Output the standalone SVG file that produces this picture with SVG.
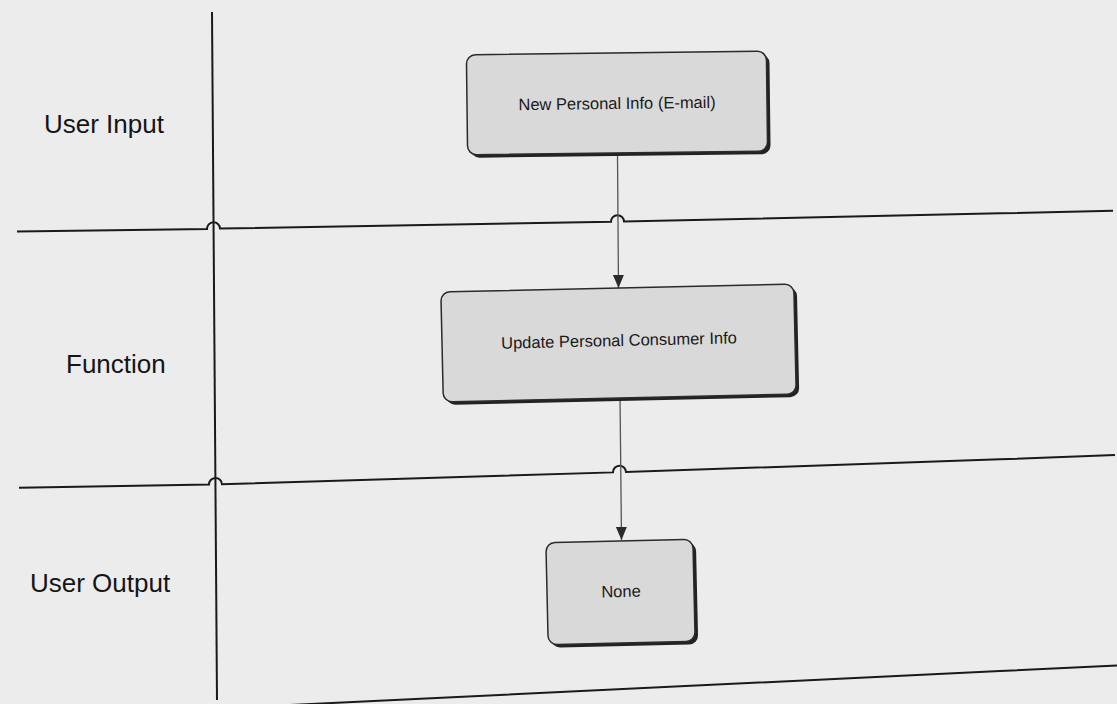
<svg xmlns="http://www.w3.org/2000/svg" width="1117" height="704" viewBox="0 0 1117 704">
<defs>
<style>
.lane{fill:none;stroke:#1a1a1a;stroke-width:2}
.conn{fill:none;stroke:#555;stroke-width:1.3}
.box{fill:#d9d9d9;stroke:#2a2a2a;stroke-width:1.5}
.shadow{fill:#222}
.lbl{font-family:"Liberation Sans",Arial,sans-serif;font-size:26px;fill:#151515}
.btxt{font-family:"Liberation Sans",Arial,sans-serif;font-size:16.5px;fill:#1a1a1a;text-anchor:middle}
</style>
<marker id="arr" markerWidth="14" markerHeight="14" refX="13" refY="7" orient="auto" markerUnits="userSpaceOnUse">
<path d="M0,1.5 L13,7 L0,12.5 Z" fill="#2a2a2a"/>
</marker>
</defs>
<rect width="1117" height="704" fill="#ececec"/>
<g id="lanes">
<line class="lane" x1="212" y1="12" x2="217" y2="700"/>
<path class="lane" d="M17,231.5 L207,229 A6.5 6.5 0 0 1 220,228.6 L611,221.8 A6.5 6.5 0 0 1 624,221.6 L1000,213.3 L1113,210.7"/>
<path class="lane" d="M19,487.7 L209,484.6 A6.5 6.5 0 0 1 222,484.2 L613,472.4 A6.5 6.5 0 0 1 626,472 L1000,459.3 L1115,455"/>
<path class="lane" d="M290,705 L1000,671 L1117,665.5"/>
</g>
<g id="lane-labels">
<text class="lbl" x="44" y="133">User Input</text>
<text class="lbl" x="66" y="373">Function</text>
<text class="lbl" x="30" y="592">User Output</text>
</g>
<g id="connectors">
<line class="conn" x1="617.5" y1="155" x2="618.5" y2="288" marker-end="url(#arr)"/>
<line class="conn" x1="620" y1="396" x2="621.5" y2="540" marker-end="url(#arr)"/>
</g>
<g id="node-new-personal-info" transform="rotate(-0.7 617 104)">
<rect class="shadow" x="470" y="56" width="300" height="100" rx="9"/>
<rect class="box" x="467" y="53" width="300" height="100" rx="9"/>
<text class="btxt" x="617" y="109">New Personal Info (E-mail)</text>
</g>
<g id="node-update-personal" transform="rotate(-1.3 619 341)">
<rect class="shadow" x="445" y="291" width="353" height="110" rx="9"/>
<rect class="box" x="442" y="288" width="353" height="110" rx="9"/>
<text class="btxt" x="619" y="346">Update Personal Consumer Info</text>
</g>
<g id="node-none" transform="rotate(-1.3 621 591)">
<rect class="shadow" x="550" y="544" width="147" height="102" rx="9"/>
<rect class="box" x="547" y="541" width="147" height="102" rx="9"/>
<text class="btxt" x="621" y="597">None</text>
</g>
</svg>
